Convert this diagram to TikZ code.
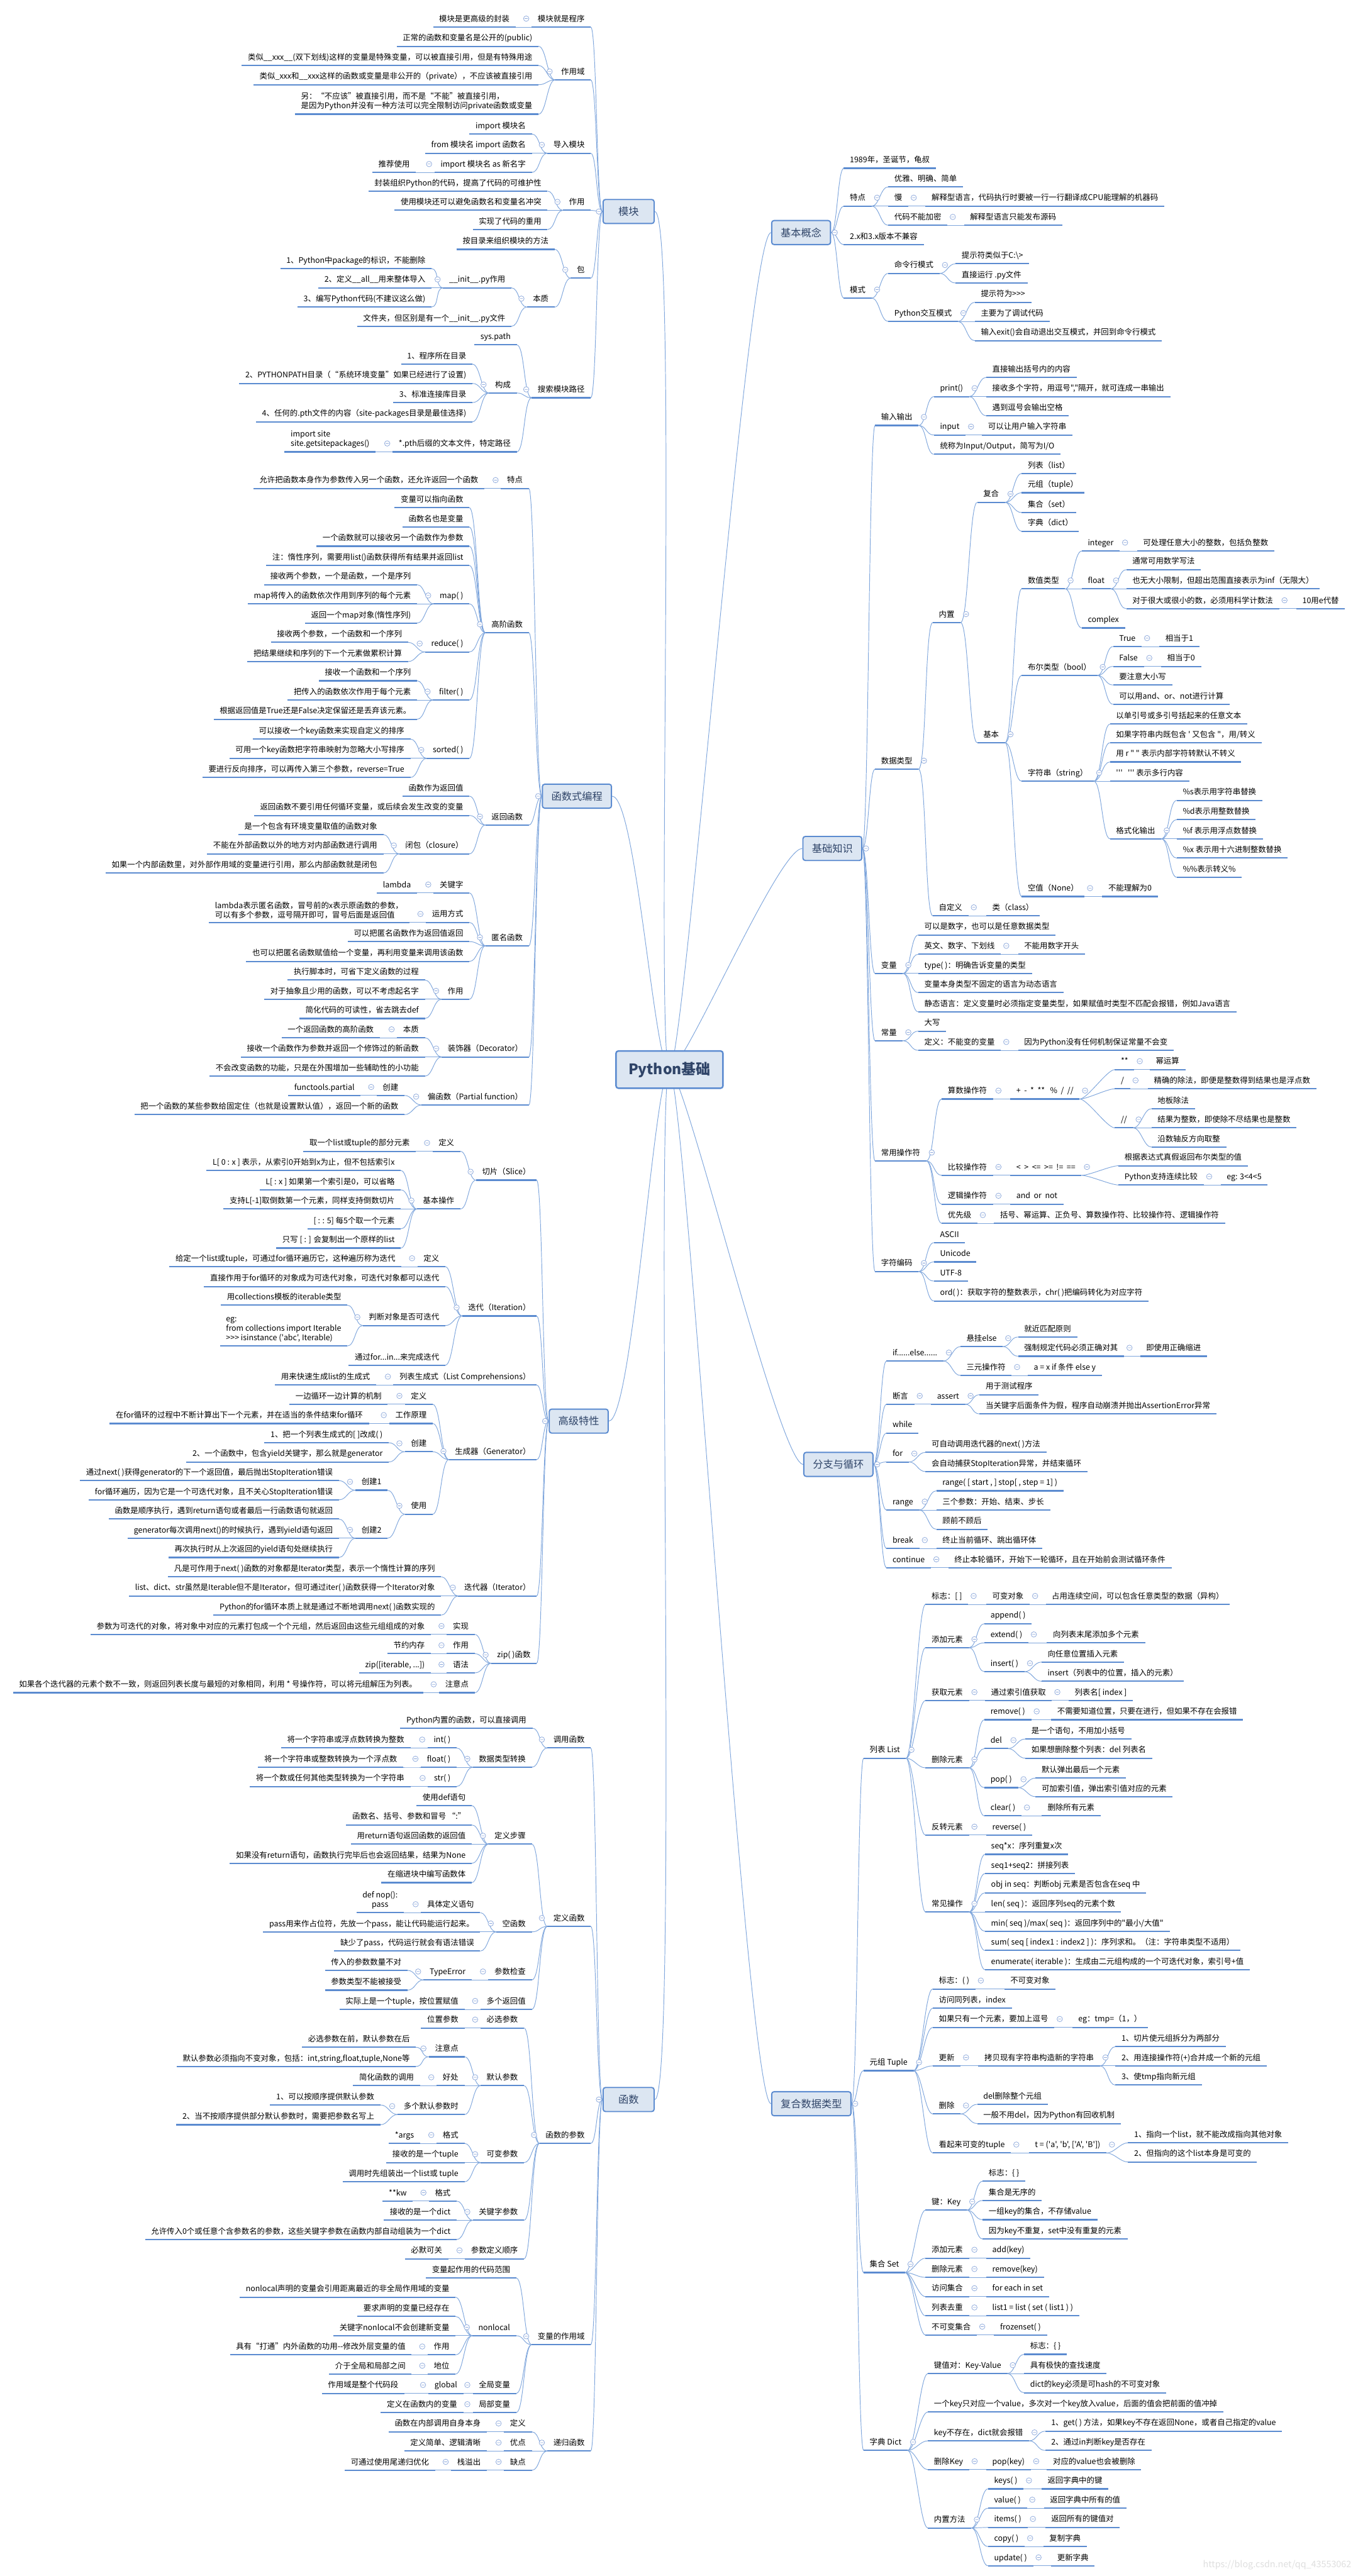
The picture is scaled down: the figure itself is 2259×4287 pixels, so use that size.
\documentclass[tikz,border=0pt]{standalone}
\usepackage{fontspec}
\usepackage{xcolor}
\usepackage{tikz}
\usetikzlibrary{backgrounds}
\newfontfamily\zhfont{Noto Sans CJK SC}
\definecolor{ulc}{HTML}{5B8BD0}
\definecolor{lnc}{HTML}{7FA6DC}
\definecolor{bxf}{HTML}{DCE6F2}
\definecolor{bxd}{HTML}{5B8BD0}
\definecolor{bxt}{HTML}{2F4468}
\definecolor{cic}{HTML}{8FAADC}
\tikzset{
  tx/.style={font=\zhfont\fontsize{13}{16}\selectfont, inner xsep=10pt, inner ysep=6pt, text height=10pt, text depth=3pt,
    append after command={(\tikzlastnode.south west) edge[draw=ulc, line width=2.2pt] (\tikzlastnode.south east)}},
  lt/.style={tx, anchor=south east},
  rt/.style={tx, anchor=south west},
  ml/.style={align=left, text height={}, text depth={}},
  topic/.style={draw=bxd, fill=bxf, line width=2pt, rounded corners=4pt, text=bxt, font=\zhfont\fontsize{17}{20}\selectfont, minimum width=85pt, minimum height=40pt, inner xsep=15pt},
  root/.style={topic, font=\zhfont\bfseries\fontsize{24}{28}\selectfont, minimum width=178pt, minimum height=62pt, line width=2.5pt},
  lnk/.style={draw=lnc, line width=1pt},
  cir/.style={draw=cic, fill=white, line width=0.8pt}
}
\newcommand\lkids[2]{\foreach \kid in {#2}{\draw[lnk] (#1.south west) .. controls +(-13,0) and +(13,0) .. (\kid.south east);}\draw[cir] ([shift={(-9,-14)}]#1.south west) circle (4.5pt) ++(-2.5,0) -- ++(5,0);}
\newcommand\rkids[2]{\foreach \kid in {#2}{\draw[lnk] (#1.south east) .. controls +(13,0) and +(-13,0) .. (\kid.south west);}\draw[cir] ([shift={(9,-14)}]#1.south east) circle (4.5pt) ++(-2.5,0) -- ++(5,0);}
\newcommand\lroot[2]{\foreach \kid in {#2}{\draw[lnk] (#1.west) .. controls +(-10,0) and +(10,0) .. (\kid.south east);}\draw[cir] ([xshift=-6pt]#1.west) circle (4.5pt) ++(-2.5,0) -- ++(5,0);}
\newcommand\rroot[2]{\foreach \kid in {#2}{\draw[lnk] (#1.east) .. controls +(10,0) and +(-10,0) .. (\kid.south west);}\draw[cir] ([xshift=6pt]#1.east) circle (4.5pt) ++(-2.5,0) -- ++(5,0);}
\begin{document}
\begin{tikzpicture}[x=1pt,y=-1pt]
    \useasboundingbox (0,0) rectangle (2259,4287);
    \node[root] (py) at (1114,1780) {Python基础};

    \node[topic] (mk) at (1046,352) {模块};
    \node[lt] (mk1) at (983,45) {模块就是程序};
    \node[lt] (mk1a) at (858,45) {模块是更高级的封装};
    \node[lt] (mk2) at (983,133) {作用域};
    \node[lt] (mk2a) at (896,77) {正常的函数和变量名是公开的(public)};
    \node[lt] (mk2b) at (896,109) {类似\_\_xxx\_\_(双下划线)这样的变量是特殊变量，可以被直接引用，但是有特殊用途};
    \node[lt] (mk2c) at (896,141) {类似\_xxx和\_\_xxx这样的函数或变量是非公开的（private），不应该被直接引用};
    \node[lt,ml] (mk2d) at (896,190) {另：“不应该”被直接引用，而不是“不能”被直接引用，\\是因为Python并没有一种方法可以完全限制访问private函数或变量};
    \node[lt] (mk3) at (983,255) {导入模块};
    \node[lt] (mk3a) at (885,223) {import 模块名};
    \node[lt] (mk3b) at (885,255) {from 模块名 import 函数名};
    \node[lt] (mk3c) at (885,287) {import 模块名 as 新名字};
    \node[lt] (mk3c1) at (692,287) {推荐使用};
    \node[lt] (mk4) at (983,350) {作用};
    \node[lt] (mk4a) at (911,318) {封装组织Python的代码，提高了代码的可维护性};
    \node[lt] (mk4b) at (911,350) {使用模块还可以避免函数名和变量名冲突};
    \node[lt] (mk4c) at (911,382) {实现了代码的重用};
    \node[lt] (mk5) at (983,463) {包};
    \node[lt] (mk5a) at (923,415) {按目录来组织模块的方法};
    \node[lt] (mk5b) at (923,511) {本质};
    \node[lt] (mk5b1) at (851,479) {\_\_init\_\_.py作用};
    \node[lt] (mk5b1a) at (718,447) {1、Python中package的标识，不能删除};
    \node[lt] (mk5b1b) at (718,479) {2、定义\_\_all\_\_用来整体导入};
    \node[lt] (mk5b1c) at (718,511) {3、编写Python代码(不建议这么做)};
    \node[lt] (mk5b2) at (851,543) {文件夹，但区别是有一个\_\_init\_\_.py文件};
    \node[lt] (mk6) at (983,662) {搜索模块路径};
    \node[lt] (mk6a) at (860,574) {sys.path};
    \node[lt] (mk6b) at (860,654) {构成};
    \node[lt] (mk6b1) at (786,606) {1、程序所在目录};
    \node[lt] (mk6b2) at (786,638) {2、PYTHONPATH目录（“系统环境变量”如果已经进行了设置)};
    \node[lt] (mk6b3) at (786,670) {3、标准连接库目录};
    \node[lt] (mk6b4) at (786,702) {4、任何的.pth文件的内容（site-packages目录是最佳选择)};
    \node[lt] (mk6c) at (860,752) {*.pth后缀的文本文件，特定路径};
    \node[lt,ml] (mk6c1) at (625,752) {import site\\site.getsitepackages()};
    \lroot{mk}{mk1,mk2,mk3,mk4,mk5,mk6}
    \lkids{mk1}{mk1a}
    \lkids{mk2}{mk2a,mk2b,mk2c,mk2d}
    \lkids{mk3}{mk3a,mk3b,mk3c}
    \lkids{mk3c}{mk3c1}
    \lkids{mk4}{mk4a,mk4b,mk4c}
    \lkids{mk5}{mk5a,mk5b}
    \lkids{mk5b}{mk5b1,mk5b2}
    \lkids{mk5b1}{mk5b1a,mk5b1b,mk5b1c}
    \lkids{mk6}{mk6a,mk6b,mk6c}
    \lkids{mk6b}{mk6b1,mk6b2,mk6b3,mk6b4}
    \lkids{mk6c}{mk6c1}

    \node[topic] (fp) at (960,1325) {函数式编程};
    \node[lt] (fp1) at (880,813) {特点};
    \node[lt] (fp1a) at (806,813) {允许把函数本身作为参数传入另一个函数，还允许返回一个函数};
    \node[lt] (fp2) at (880,1053) {高阶函数};
    \node[lt] (fp2a) at (781,845) {变量可以指向函数};
    \node[lt] (fp2b) at (781,877) {函数名也是变量};
    \node[lt] (fp2c) at (781,909) {一个函数就可以接收另一个函数作为参数};
    \node[lt] (fp2d) at (781,941) {注：惰性序列，需要用list()函数获得所有结果并返回list};
    \node[lt] (fp2e) at (781,1005) {map( )};
    \node[lt] (fp2e1) at (694,973) {接收两个参数，一个是函数，一个是序列};
    \node[lt] (fp2e2) at (694,1005) {map将传入的函数依次作用到序列的每个元素};
    \node[lt] (fp2e3) at (694,1037) {返回一个map对象(惰性序列)};
    \node[lt] (fp2f) at (781,1085) {reduce( )};
    \node[lt] (fp2f1) at (679,1069) {接收两个参数，一个函数和一个序列};
    \node[lt] (fp2f2) at (679,1101) {把结果继续和序列的下一个元素做累积计算};
    \node[lt] (fp2g) at (781,1165) {filter( )};
    \node[lt] (fp2g1) at (694,1133) {接收一个函数和一个序列};
    \node[lt] (fp2g2) at (694,1165) {把传入的函数依次作用于每个元素};
    \node[lt] (fp2g3) at (694,1197) {根据返回值是True还是False决定保留还是丢弃该元素。};
    \node[lt] (fp2h) at (781,1262) {sorted( )};
    \node[lt] (fp2h1) at (683,1230) {可以接收一个key函数来实现自定义的排序};
    \node[lt] (fp2h2) at (683,1262) {可用一个key函数把字符串映射为忽略大小写排序};
    \node[lt] (fp2h3) at (683,1294) {要进行反向排序，可以再传入第三个参数，reverse=True};
    \node[lt] (fp3) at (880,1373) {返回函数};
    \node[lt] (fp3a) at (781,1325) {函数作为返回值};
    \node[lt] (fp3b) at (781,1357) {返回函数不要引用任何循环变量，或后续会发生改变的变量};
    \node[lt] (fp3c) at (781,1421) {闭包（closure）};
    \node[lt] (fp3c1) at (638,1389) {是一个包含有环境变量取值的函数对象};
    \node[lt] (fp3c2) at (638,1421) {不能在外部函数以外的地方对内部函数进行调用};
    \node[lt] (fp3c3) at (638,1453) {如果一个内部函数里，对外部作用域的变量进行引用，那么内部函数就是闭包};
    \node[lt] (fp4) at (880,1574) {匿名函数};
    \node[lt] (fp4a) at (781,1486) {关键字};
    \node[lt] (fp4a1) at (694,1486) {lambda};
    \node[lt] (fp4b) at (781,1535) {运用方式};
    \node[lt,ml] (fp4b1) at (681,1535) {lambda表示匿名函数，冒号前的x表示原函数的参数，\\可以有多个参数，逗号隔开即可，冒号后面是返回值};
    \node[lt] (fp4c) at (781,1567) {可以把匿名函数作为返回值返回};
    \node[lt] (fp4d) at (781,1600) {也可以把匿名函数赋值给一个变量，再利用变量来调用该函数};
    \node[lt] (fp4e) at (781,1663) {作用};
    \node[lt] (fp4e1) at (707,1631) {执行脚本时，可省下定义函数的过程};
    \node[lt] (fp4e2) at (707,1663) {对于抽象且少用的函数，可以不考虑起名字};
    \node[lt] (fp4e3) at (707,1695) {简化代码的可读性，省去跳去def};
    \node[lt] (fp5) at (880,1759) {装饰器（Decorator）};
    \node[lt] (fp5a) at (707,1727) {本质};
    \node[lt] (fp5a1) at (632,1727) {一个返回函数的高阶函数};
    \node[lt] (fp5b) at (707,1759) {接收一个函数作为参数并返回一个修饰过的新函数};
    \node[lt] (fp5c) at (707,1791) {不会改变函数的功能，只是在外围增加一些辅助性的小功能};
    \node[lt] (fp6) at (880,1839) {偏函数（Partial function）};
    \node[lt] (fp6a) at (673,1823) {创建};
    \node[lt] (fp6a1) at (600,1823) {functools.partial};
    \node[lt] (fp6b) at (673,1855) {把一个函数的某些参数给固定住（也就是设置默认值），返回一个新的函数};
    \lroot{fp}{fp1,fp2,fp3,fp4,fp5,fp6}
    \lkids{fp1}{fp1a}
    \lkids{fp2}{fp2a,fp2b,fp2c,fp2d,fp2e,fp2f,fp2g,fp2h}
    \lkids{fp2e}{fp2e1,fp2e2,fp2e3}
    \lkids{fp2f}{fp2f1,fp2f2}
    \lkids{fp2g}{fp2g1,fp2g2,fp2g3}
    \lkids{fp2h}{fp2h1,fp2h2,fp2h3}
    \lkids{fp3}{fp3a,fp3b,fp3c}
    \lkids{fp3c}{fp3c1,fp3c2,fp3c3}
    \lkids{fp4}{fp4a,fp4b,fp4c,fp4d,fp4e}
    \lkids{fp4a}{fp4a1}
    \lkids{fp4b}{fp4b1}
    \lkids{fp4e}{fp4e1,fp4e2,fp4e3}
    \lkids{fp5}{fp5a,fp5b,fp5c}
    \lkids{fp5a}{fp5a1}
    \lkids{fp6}{fp6a,fp6b}
    \lkids{fp6a}{fp6a1}

    \node[topic] (ad) at (963,2365) {高级特性};
    \node[lt] (ad1) at (893,1964) {切片（Slice）};
    \node[lt] (ad1a) at (766,1916) {定义};
    \node[lt] (ad1a1) at (692,1916) {取一个list或tuple的部分元素};
    \node[lt] (ad1b) at (766,2012) {基本操作};
    \node[lt] (ad1b1) at (667,1948) {L[ 0 : x ] 表示，从索引0开始到x为止，但不包括索引x};
    \node[lt] (ad1b2) at (667,1980) {L[ : x ] 如果第一个索引是0，可以省略};
    \node[lt] (ad1b3) at (667,2012) {支持L[-1]取倒数第一个元素，同样支持倒数切片};
    \node[lt] (ad1b4) at (667,2045) {[ : : 5] 每5个取一个元素};
    \node[lt] (ad1b5) at (667,2077) {只写 [ : ] 会复制出一个原样的list};
    \node[lt] (ad2) at (893,2190) {迭代（Iteration）};
    \node[lt] (ad2a) at (741,2108) {定义};
    \node[lt] (ad2a1) at (668,2108) {给定一个list或tuple，可通过for循环遍历它，这种遍历称为迭代};
    \node[lt] (ad2b) at (741,2141) {直接作用于for循环的对象成为可迭代对象，可迭代对象都可以迭代};
    \node[lt] (ad2c) at (741,2206) {判断对象是否可迭代};
    \node[lt] (ad2c1) at (578,2172) {用collections模板的iterable类型};
    \node[lt,ml] (ad2c2) at (578,2240) {eg:\\from collections import Iterable\\>>> isinstance ('abc', Iterable)};
    \node[lt] (ad2d) at (741,2272) {通过for...in...来完成迭代};
    \node[lt] (ad3) at (893,2305) {列表生成式（List Comprehensions）};
    \node[lt] (ad3a) at (626,2305) {用来快速生成list的生成式};
    \node[lt] (ad4) at (893,2429) {生成器（Generator）};
    \node[lt] (ad4a) at (720,2337) {定义};
    \node[lt] (ad4a1) at (645,2337) {一边循环一边计算的机制};
    \node[lt] (ad4b) at (720,2369) {工作原理};
    \node[lt] (ad4b1) at (614,2369) {在for循环的过程中不断计算出下一个元素，并在适当的条件结束for循环};
    \node[lt] (ad4c) at (720,2416) {创建};
    \node[lt] (ad4c1) at (647,2401) {1、把一个列表生成式的[ ]改成( )};
    \node[lt] (ad4c2) at (647,2433) {2、一个函数中，包含yield关键字，那么就是generator};
    \node[lt] (ad4d) at (720,2520) {使用};
    \node[lt] (ad4d1) at (645,2480) {创建1};
    \node[lt] (ad4d1a) at (564,2464) {通过next( )获得generator的下一个返回值，最后抛出StopIteration错误};
    \node[lt] (ad4d1b) at (564,2496) {for循环遍历，因为它是一个可迭代对象，且不关心StopIteration错误};
    \node[lt] (ad4d2) at (645,2560) {创建2};
    \node[lt] (ad4d2a) at (564,2528) {函数是顺序执行，遇到return语句或者最后一行函数语句就返回};
    \node[lt] (ad4d2b) at (564,2560) {generator每次调用next()的时候执行，遇到yield语句返回};
    \node[lt] (ad4d2c) at (564,2592) {再次执行时从上次返回的yield语句处继续执行};
    \node[lt] (ad5) at (893,2656) {迭代器（Iterator）};
    \node[lt] (ad5a) at (734,2624) {凡是可作用于next( )函数的对象都是Iterator类型，表示一个惰性计算的序列};
    \node[lt] (ad5b) at (734,2656) {list、dict、str虽然是Iterable但不是Iterator，但可通过iter( )函数获得一个Iterator对象};
    \node[lt] (ad5c) at (734,2688) {Python的for循环本质上就是通过不断地调用next( )函数实现的};
    \node[lt] (ad6) at (893,2768) {zip( )函数};
    \node[lt] (ad6a) at (790,2720) {实现};
    \node[lt] (ad6a1) at (717,2720) {参数为可迭代的对象，将对象中对应的元素打包成一个个元组，然后返回由这些元组组成的对象};
    \node[lt] (ad6b) at (790,2752) {作用};
    \node[lt] (ad6b1) at (717,2752) {节约内存};
    \node[lt] (ad6c) at (790,2784) {语法};
    \node[lt] (ad6c1) at (717,2784) {zip([iterable, ...])};
    \node[lt] (ad6d) at (790,2817) {注意点};
    \node[lt] (ad6d1) at (704,2817) {如果各个迭代器的元素个数不一致，则返回列表长度与最短的对象相同，利用 * 号操作符，可以将元组解压为列表。};
    \lroot{ad}{ad1,ad2,ad3,ad4,ad5,ad6}
    \lkids{ad1}{ad1a,ad1b}
    \lkids{ad1a}{ad1a1}
    \lkids{ad1b}{ad1b1,ad1b2,ad1b3,ad1b4,ad1b5}
    \lkids{ad2}{ad2a,ad2b,ad2c,ad2d}
    \lkids{ad2a}{ad2a1}
    \lkids{ad2c}{ad2c1,ad2c2}
    \lkids{ad3}{ad3a}
    \lkids{ad4}{ad4a,ad4b,ad4c,ad4d}
    \lkids{ad4a}{ad4a1}
    \lkids{ad4b}{ad4b1}
    \lkids{ad4c}{ad4c1,ad4c2}
    \lkids{ad4d}{ad4d1,ad4d2}
    \lkids{ad4d1}{ad4d1a,ad4d1b}
    \lkids{ad4d2}{ad4d2a,ad4d2b,ad4d2c}
    \lkids{ad5}{ad5a,ad5b,ad5c}
    \lkids{ad6}{ad6a,ad6b,ad6c,ad6d}
    \lkids{ad6a}{ad6a1}
    \lkids{ad6b}{ad6b1}
    \lkids{ad6c}{ad6c1}
    \lkids{ad6d}{ad6d1}

    \node[topic] (fn) at (1046,3494) {函数};
    \node[lt] (fn1) at (983,2909) {调用函数};
    \node[lt] (fn1a) at (886,2876) {Python内置的函数，可以直接调用};
    \node[lt] (fn1b) at (885,2941) {数据类型转换};
    \node[lt] (fn1b1) at (760,2909) {int( )};
    \node[lt] (fn1b1a) at (683,2909) {将一个字符串或浮点数转换为整数};
    \node[lt] (fn1b2) at (760,2941) {float( )};
    \node[lt] (fn1b2a) at (671,2941) {将一个字符串或整数转换为一个浮点数};
    \node[lt] (fn1b3) at (760,2973) {str( )};
    \node[lt] (fn1b3a) at (683,2973) {将一个数或任何其他类型转换为一个字符串};
    \node[lt] (fn2) at (983,3206) {定义函数};
    \node[lt] (fn2a) at (885,3069) {定义步骤};
    \node[lt] (fn2a1) at (785,3005) {使用def语句};
    \node[lt] (fn2a2) at (785,3037) {函数名、括号、参数和冒号 “:”};
    \node[lt] (fn2a3) at (785,3069) {用return语句返回函数的返回值};
    \node[lt] (fn2a4) at (785,3101) {如果没有return语句，函数执行完毕后也会返回结果，结果为None};
    \node[lt] (fn2a5) at (785,3133) {在缩进块中编写函数体};
    \node[lt] (fn2b) at (885,3215) {空函数};
    \node[lt] (fn2b1) at (799,3183) {具体定义语句};
    \node[lt,ml,align=center] (fn2b1a) at (672,3183) {def nop():\\pass};
    \node[lt] (fn2b2) at (799,3215) {pass用来作占位符，先放一个pass，能让代码能运行起来。};
    \node[lt] (fn2b3) at (799,3247) {缺少了pass，代码运行就会有语法错误};
    \node[lt] (fn2c) at (885,3295) {参数检查};
    \node[lt] (fn2c1) at (785,3295) {TypeError};
    \node[lt] (fn2c1a) at (678,3279) {传入的参数数量不对};
    \node[lt] (fn2c1b) at (678,3312) {参数类型不能被接受};
    \node[lt] (fn2d) at (885,3344) {多个返回值};
    \node[lt] (fn2d1) at (773,3344) {实际上是一个tuple，按位置赋值};
    \node[lt] (fn3) at (983,3567) {函数的参数};
    \node[lt] (fn3a) at (872,3375) {必选参数};
    \node[lt] (fn3a1) at (773,3375) {位置参数};
    \node[lt] (fn3b) at (872,3471) {默认参数};
    \node[lt] (fn3b1) at (773,3423) {注意点};
    \node[lt] (fn3b1a) at (692,3407) {必选参数在前，默认参数在后};
    \node[lt] (fn3b1b) at (692,3439) {默认参数必须指向不变对象，包括：int,string,float,tuple,None等};
    \node[lt] (fn3b2) at (773,3471) {好处};
    \node[lt] (fn3b2a) at (699,3471) {简化函数的调用};
    \node[lt] (fn3b3) at (773,3519) {多个默认参数时};
    \node[lt] (fn3b3a) at (633,3503) {1、可以按顺序提供默认参数};
    \node[lt] (fn3b3b) at (633,3536) {2、当不按顺序提供部分默认参数时，需要把参数名写上};
    \node[lt] (fn3c) at (872,3599) {可变参数};
    \node[lt] (fn3c1) at (773,3567) {格式};
    \node[lt] (fn3c1a) at (699,3567) {*args};
    \node[lt] (fn3c2) at (773,3599) {接收的是一个tuple};
    \node[lt] (fn3c3) at (773,3631) {调用时先组装出一个list或 tuple};
    \node[lt] (fn3d) at (872,3695) {关键字参数};
    \node[lt] (fn3d1) at (760,3663) {格式};
    \node[lt] (fn3d1a) at (687,3663) {**kw};
    \node[lt] (fn3d2) at (760,3695) {接收的是一个dict};
    \node[lt] (fn3d3) at (760,3727) {允许传入0个或任意个含参数名的参数，这些关键字参数在函数内部自动组装为一个dict};
    \node[lt] (fn3e) at (872,3759) {参数定义顺序};
    \node[lt] (fn3e1) at (746,3759) {必默可关};
    \node[lt] (fn4) at (983,3902) {变量的作用域};
    \node[lt] (fn4a) at (859,3791) {变量起作用的代码范围};
    \node[lt] (fn4b) at (859,3887) {nonlocal};
    \node[lt] (fn4b1) at (758,3823) {nonlocal声明的变量会引用距离最近的非全局作用域的变量};
    \node[lt] (fn4b2) at (758,3855) {要求声明的变量已经存在};
    \node[lt] (fn4b3) at (758,3887) {关键字nonlocal不会创建新变量};
    \node[lt] (fn4b4) at (758,3919) {作用};
    \node[lt] (fn4b4a) at (685,3919) {具有“打通”内外函数的功用--修改外层变量的值};
    \node[lt] (fn4b5) at (758,3951) {地位};
    \node[lt] (fn4b5a) at (685,3951) {介于全局和局部之间};
    \node[lt] (fn4c) at (859,3983) {全局变量};
    \node[lt] (fn4c1) at (771,3983) {global};
    \node[lt] (fn4c1a) at (673,3983) {作用域是整个代码段};
    \node[lt] (fn4d) at (859,4015) {局部变量};
    \node[lt] (fn4d1) at (771,4015) {定义在函数内的变量};
    \node[lt] (fn5) at (983,4079) {递归函数};
    \node[lt] (fn5a) at (885,4047) {定义};
    \node[lt] (fn5a1) at (810,4047) {函数在内部调用自身本身};
    \node[lt] (fn5b) at (885,4079) {优点};
    \node[lt] (fn5b1) at (810,4079) {定义简单、逻辑清晰};
    \node[lt] (fn5c) at (885,4111) {缺点};
    \node[lt] (fn5c1) at (810,4111) {栈溢出};
    \node[lt] (fn5c1a) at (724,4111) {可通过使用尾递归优化};
    \lroot{fn}{fn1,fn2,fn3,fn4,fn5}
    \lkids{fn1}{fn1a,fn1b}
    \lkids{fn1b}{fn1b1,fn1b2,fn1b3}
    \lkids{fn1b1}{fn1b1a}
    \lkids{fn1b2}{fn1b2a}
    \lkids{fn1b3}{fn1b3a}
    \lkids{fn2}{fn2a,fn2b,fn2c,fn2d}
    \lkids{fn2a}{fn2a1,fn2a2,fn2a3,fn2a4,fn2a5}
    \lkids{fn2b}{fn2b1,fn2b2,fn2b3}
    \lkids{fn2b1}{fn2b1a}
    \lkids{fn2c}{fn2c1}
    \lkids{fn2c1}{fn2c1a,fn2c1b}
    \lkids{fn2d}{fn2d1}
    \lkids{fn3}{fn3a,fn3b,fn3c,fn3d,fn3e}
    \lkids{fn3a}{fn3a1}
    \lkids{fn3b}{fn3b1,fn3b2,fn3b3}
    \lkids{fn3b1}{fn3b1a,fn3b1b}
    \lkids{fn3b2}{fn3b2a}
    \lkids{fn3b3}{fn3b3a,fn3b3b}
    \lkids{fn3c}{fn3c1,fn3c2,fn3c3}
    \lkids{fn3c1}{fn3c1a}
    \lkids{fn3d}{fn3d1,fn3d2,fn3d3}
    \lkids{fn3d1}{fn3d1a}
    \lkids{fn3e}{fn3e1}
    \lkids{fn4}{fn4a,fn4b,fn4c,fn4d}
    \lkids{fn4b}{fn4b1,fn4b2,fn4b3,fn4b4,fn4b5}
    \lkids{fn4b4}{fn4b4a}
    \lkids{fn4b5}{fn4b5a}
    \lkids{fn4c}{fn4c1}
    \lkids{fn4c1}{fn4c1a}
    \lkids{fn4d}{fn4d1}
    \lkids{fn5}{fn5a,fn5b,fn5c}
    \lkids{fn5a}{fn5a1}
    \lkids{fn5b}{fn5b1}
    \lkids{fn5c}{fn5c1}
    \lkids{fn5c1}{fn5c1a}

    \node[topic] (bc) at (1333,387) {基本概念};
    \node[rt] (bc1) at (1404,280) {1989年，圣诞节，龟叔};
    \node[rt] (bc2) at (1404,343) {特点};
    \node[rt] (bc2a) at (1478,311) {优雅、明确、简单};
    \node[rt] (bc2b) at (1478,343) {慢};
    \node[rt] (bc2b1) at (1540,343) {解释型语言，代码执行时要被一行一行翻译成CPU能理解的机器码};
    \node[rt] (bc2c) at (1478,375) {代码不能加密};
    \node[rt] (bc2c1) at (1604,375) {解释型语言只能发布源码};
    \node[rt] (bc3) at (1404,407) {2.x和3.x版本不兼容};
    \node[rt] (bc4) at (1404,496) {模式};
    \node[rt] (bc4a) at (1478,455) {命令行模式};
    \node[rt] (bc4a1) at (1590,439) {提示符类似于C:\textbackslash>};
    \node[rt] (bc4a2) at (1590,471) {直接运行 .py文件};
    \node[rt] (bc4b) at (1478,535) {Python交互模式};
    \node[rt] (bc4b1) at (1622,503) {提示符为>>>};
    \node[rt] (bc4b2) at (1622,535) {主要为了调试代码};
    \node[rt] (bc4b3) at (1622,567) {输入exit()会自动退出交互模式，并回到命令行模式};
    \rroot{bc}{bc1,bc2,bc3,bc4}
    \rkids{bc2}{bc2a,bc2b,bc2c}
    \rkids{bc2b}{bc2b1}
    \rkids{bc2c}{bc2c1}
    \rkids{bc4}{bc4a,bc4b}
    \rkids{bc4a}{bc4a1,bc4a2}
    \rkids{bc4b}{bc4b1,bc4b2,bc4b3}

    \node[topic] (bk) at (1385,1412) {基础知识};
    \node[rt] (bk1) at (1456,708) {输入输出};
    \node[rt] (bk1a) at (1554,660) {print()};
    \node[rt] (bk1a1) at (1641,628) {直接输出括号内的内容};
    \node[rt] (bk1a2) at (1641,660) {接收多个字符，用逗号","隔开，就可连成一串输出};
    \node[rt] (bk1a3) at (1641,692) {遇到逗号会输出空格};
    \node[rt] (bk1b) at (1554,724) {input};
    \node[rt] (bk1b1) at (1634,724) {可以让用户输入字符串};
    \node[rt] (bk1c) at (1554,756) {统称为Input/Output，简写为I/O};
    \node[rt] (bk2) at (1456,1280) {数据类型};
    \node[rt] (bk2a) at (1552,1036) {内置};
    \node[rt] (bk2a1) at (1626,836) {复合};
    \node[rt] (bk2a1a) at (1700,788) {列表（list）};
    \node[rt] (bk2a1b) at (1700,820) {元组（tuple）};
    \node[rt] (bk2a1c) at (1700,853) {集合（set）};
    \node[rt] (bk2a1d) at (1700,884) {字典（dict）};
    \node[rt] (bk2a2) at (1626,1236) {基本};
    \node[rt] (bk2a2a) at (1700,980) {数值类型};
    \node[rt] (nm1) at (1800,917) {integer};
    \node[rt] (nm1a) at (1892,917) {可处理任意大小的整数，包括负整数};
    \node[rt] (nm2) at (1800,980) {float};
    \node[rt] (nm2a) at (1874,948) {通常可用数学写法};
    \node[rt] (nm2b) at (1874,980) {也无大小限制，但超出范围直接表示为inf（无限大）};
    \node[rt] (nm2c) at (1874,1013) {对于很大或很小的数，必须用科学计数法};
    \node[rt] (nm2c1) at (2157,1013) {10用e代替};
    \node[rt] (nm3) at (1800,1045) {complex};
    \node[rt] (bk2a2b) at (1700,1124) {布尔类型（bool）};
    \node[rt] (bl1) at (1852,1076) {True};
    \node[rt] (bl1a) at (1929,1076) {相当于1};
    \node[rt] (bl2) at (1852,1109) {False};
    \node[rt] (bl2a) at (1932,1109) {相当于0};
    \node[rt] (bl3) at (1852,1140) {要注意大小写};
    \node[rt] (bl4) at (1852,1172) {可以用and、or、not进行计算};
    \node[rt] (bk2a2c) at (1700,1300) {字符串（string）};
    \node[rt] (st1) at (1847,1205) {以单引号或多引号括起来的任意文本};
    \node[rt] (st2) at (1847,1236) {如果字符串内既包含 ' 又包含 "，用/转义};
    \node[rt] (st3) at (1847,1268) {用 r " " 表示内部字符转默认不转义};
    \node[rt] (st4) at (1847,1300) {'''\ \ \ ''' 表示多行内容};
    \node[rt] (st5) at (1847,1396) {格式化输出};
    \node[rt] (st5a) at (1958,1332) {\%s表示用字符串替换};
    \node[rt] (st5b) at (1958,1364) {\%d表示用整数替换};
    \node[rt] (st5c) at (1958,1396) {\%f 表示用浮点数替换};
    \node[rt] (st5d) at (1958,1428) {\%x 表示用十六进制整数替换};
    \node[rt] (st5e) at (1958,1460) {\%\%表示转义\%};
    \node[rt] (bk2a2d) at (1700,1492) {空值（None）};
    \node[rt] (bk2a2d1) at (1834,1492) {不能理解为0};
    \node[rt] (bk2b) at (1552,1524) {自定义};
    \node[rt] (bk2b1) at (1641,1524) {类（class）};
    \node[rt] (bk3) at (1456,1620) {变量};
    \node[rt] (bk3a) at (1528,1556) {可以是数字，也可以是任意数据类型};
    \node[rt] (bk3b) at (1528,1588) {英文、数字、下划线};
    \node[rt] (bk3b1) at (1694,1588) {不能用数字开头};
    \node[rt] (bk3c) at (1528,1620) {type( )：明确告诉变量的类型};
    \node[rt] (bk3d) at (1528,1652) {变量本身类型不固定的语言为动态语言};
    \node[rt] (bk3e) at (1528,1684) {静态语言：定义变量时必须指定变量类型，如果赋值时类型不匹配会报错，例如Java语言};
    \node[rt] (bk4) at (1456,1732) {常量};
    \node[rt] (bk4a) at (1528,1716) {大写};
    \node[rt] (bk4b) at (1528,1748) {定义：不能变的变量};
    \node[rt] (bk4b1) at (1694,1748) {因为Python没有任何机制保证常量不会变};
    \node[rt] (bk5) at (1456,1932) {常用操作符};
    \node[rt] (bk5a) at (1567,1829) {算数操作符};
    \node[rt] (bk5a1) at (1681,1829) {+\ \ -\ \ *\ \ **\ \ \ \%\ \ /\ \ //};
    \node[rt] (op1) at (1855,1780) {**};
    \node[rt] (op1a) at (1913,1780) {幂运算};
    \node[rt] (op2) at (1855,1812) {/};
    \node[rt] (op2a) at (1910,1812) {精确的除法，即便是整数得到结果也是浮点数};
    \node[rt] (op3) at (1855,1877) {//};
    \node[rt] (op3a) at (1916,1845) {地板除法};
    \node[rt] (op3b) at (1916,1877) {结果为整数，即使除不尽结果也是整数};
    \node[rt] (op3c) at (1916,1909) {沿数轴反方向取整};
    \node[rt] (bk5b) at (1567,1956) {比较操作符};
    \node[rt] (bk5b1) at (1681,1956) {<\ \ >\ \ <=\ \ >=\ \ !=\ \ ==};
    \node[rt] (cp1) at (1861,1940) {根据表达式真假返回布尔类型的值};
    \node[rt] (cp2) at (1861,1972) {Python支持连续比较};
    \node[rt] (cp2a) at (2031,1972) {eg: 3<4<5};
    \node[rt] (bk5c) at (1567,2004) {逻辑操作符};
    \node[rt] (bk5c1) at (1681,2004) {and\ \ or\ \ not};
    \node[rt] (bk5d) at (1567,2036) {优先级};
    \node[rt] (bk5d1) at (1654,2036) {括号、幂运算、正负号、算数操作符、比较操作符、逻辑操作符};
    \node[rt] (bk6) at (1456,2116) {字符编码};
    \node[rt] (bk6a) at (1554,2068) {ASCII};
    \node[rt] (bk6b) at (1554,2100) {Unicode};
    \node[rt] (bk6c) at (1554,2132) {UTF-8};
    \node[rt] (bk6d) at (1554,2165) {ord( )：获取字符的整数表示，chr( )把编码转化为对应字符};
    \rroot{bk}{bk1,bk2,bk3,bk4,bk5,bk6}
    \rkids{bk1}{bk1a,bk1b,bk1c}
    \rkids{bk1a}{bk1a1,bk1a2,bk1a3}
    \rkids{bk1b}{bk1b1}
    \rkids{bk2}{bk2a,bk2b}
    \rkids{bk2a}{bk2a1,bk2a2}
    \rkids{bk2a1}{bk2a1a,bk2a1b,bk2a1c,bk2a1d}
    \rkids{bk2a2}{bk2a2a,bk2a2b,bk2a2c,bk2a2d}
    \rkids{bk2a2a}{nm1,nm2,nm3}
    \rkids{nm1}{nm1a}
    \rkids{nm2}{nm2a,nm2b,nm2c}
    \rkids{nm2c}{nm2c1}
    \rkids{bk2a2b}{bl1,bl2,bl3,bl4}
    \rkids{bl1}{bl1a}
    \rkids{bl2}{bl2a}
    \rkids{bk2a2c}{st1,st2,st3,st4,st5}
    \rkids{st5}{st5a,st5b,st5c,st5d,st5e}
    \rkids{bk2a2d}{bk2a2d1}
    \rkids{bk2b}{bk2b1}
    \rkids{bk3}{bk3a,bk3b,bk3c,bk3d,bk3e}
    \rkids{bk3b}{bk3b1}
    \rkids{bk4}{bk4a,bk4b}
    \rkids{bk4b}{bk4b1}
    \rkids{bk5}{bk5a,bk5b,bk5c,bk5d}
    \rkids{bk5a}{bk5a1}
    \rkids{bk5a1}{op1,op2,op3}
    \rkids{op1}{op1a}
    \rkids{op2}{op2a}
    \rkids{op3}{op3a,op3b,op3c}
    \rkids{bk5b}{bk5b1}
    \rkids{bk5b1}{cp1,cp2}
    \rkids{cp2}{cp2a}
    \rkids{bk5c}{bk5c1}
    \rkids{bk5d}{bk5d1}
    \rkids{bk6}{bk6a,bk6b,bk6c,bk6d}

    \node[topic] (br) at (1395,2437) {分支与循环};
    \node[rt] (br1) at (1475,2265) {if......else......};
    \node[rt] (br1a) at (1598,2241) {悬挂else};
    \node[rt] (br1a1) at (1694,2225) {就近匹配原则};
    \node[rt] (br1a2) at (1694,2257) {强制规定代码必须正确对其};
    \node[rt] (br1a2a) at (1897,2257) {即使用正确缩进};
    \node[rt] (br1b) at (1598,2289) {三元操作符};
    \node[rt] (br1b1) at (1710,2289) {a = x if 条件 else y};
    \node[rt] (br2) at (1475,2337) {断言};
    \node[rt] (br2a) at (1549,2337) {assert};
    \node[rt] (br2a1) at (1630,2321) {用于测试程序};
    \node[rt] (br2a2) at (1630,2353) {当关键字后面条件为假，程序自动崩溃并抛出AssertionError异常};
    \node[rt] (br3) at (1475,2385) {while};
    \node[rt] (br4) at (1475,2433) {for};
    \node[rt] (br4a) at (1540,2417) {可自动调用迭代器的next( )方法};
    \node[rt] (br4b) at (1540,2449) {会自动捕获StopIteration异常，并结束循环};
    \node[rt] (br5) at (1475,2513) {range};
    \node[rt] (br5a) at (1558,2481) {range( [ start , ] stop[ , step = 1] )};
    \node[rt] (br5b) at (1558,2513) {三个参数：开始、结束、步长};
    \node[rt] (br5c) at (1558,2545) {顾前不顾后};
    \node[rt] (br6) at (1475,2577) {break};
    \node[rt] (br6a) at (1558,2577) {终止当前循环、跳出循环体};
    \node[rt] (br7) at (1475,2609) {continue};
    \node[rt] (br7a) at (1578,2609) {终止本轮循环，开始下一轮循环，且在开始前会测试循环条件};
    \rroot{br}{br1,br2,br3,br4,br5,br6,br7}
    \rkids{br1}{br1a,br1b}
    \rkids{br1a}{br1a1,br1a2}
    \rkids{br1a2}{br1a2a}
    \rkids{br1b}{br1b1}
    \rkids{br2}{br2a}
    \rkids{br2a}{br2a1,br2a2}
    \rkids{br4}{br4a,br4b}
    \rkids{br5}{br5a,br5b,br5c}
    \rkids{br6}{br6a}
    \rkids{br7}{br7a}

    \node[topic] (cd) at (1350,3501) {复合数据类型};
    \node[rt] (cd1) at (1437,2926) {列表 List};
    \node[rt] (cd1a) at (1540,2670) {标志：[ ]};
    \node[rt] (cd1a1) at (1641,2670) {可变对象};
    \node[rt] (cd1a1a) at (1740,2670) {占用连续空间，可以包含任意类型的数据（异构）};
    \node[rt] (cd1b) at (1540,2742) {添加元素};
    \node[rt] (cd1b1) at (1638,2702) {append( )};
    \node[rt] (cd1b2) at (1638,2734) {extend( )};
    \node[rt] (cd1b2a) at (1742,2734) {向列表末尾添加多个元素};
    \node[rt] (cd1b3) at (1638,2782) {insert( )};
    \node[rt] (cd1b3a) at (1733,2766) {向任意位置插入元素};
    \node[rt] (cd1b3b) at (1733,2798) {insert（列表中的位置，插入的元素）};
    \node[rt] (cd1c) at (1540,2830) {获取元素};
    \node[rt] (cd1c1) at (1639,2830) {通过索引值获取};
    \node[rt] (cd1c1a) at (1778,2830) {列表名[ index ]};
    \node[rt] (cd1d) at (1540,2942) {删除元素};
    \node[rt] (cd1d1) at (1638,2862) {remove( )};
    \node[rt] (cd1d1a) at (1749,2862) {不需要知道位置，只要在进行，但如果不存在会报错};
    \node[rt] (cd1d2) at (1638,2910) {del};
    \node[rt] (cd1d2a) at (1706,2894) {是一个语句，不用加小括号};
    \node[rt] (cd1d2b) at (1706,2926) {如果想删除整个列表：del 列表名};
    \node[rt] (cd1d3) at (1638,2975) {pop( )};
    \node[rt] (cd1d3a) at (1723,2959) {默认弹出最后一个元素};
    \node[rt] (cd1d3b) at (1723,2990) {可加索引值，弹出索引值对应的元素};
    \node[rt] (cd1d4) at (1638,3022) {clear( )};
    \node[rt] (cd1d4a) at (1733,3022) {删除所有元素};
    \node[rt] (cd1e) at (1540,3054) {反转元素};
    \node[rt] (cd1e1) at (1641,3054) {reverse( )};
    \node[rt] (cd1f) at (1540,3182) {常见操作};
    \node[rt] (cd1f1) at (1639,3086) {seq*x：序列重复x次};
    \node[rt] (cd1f2) at (1639,3118) {seq1+seq2：拼接列表};
    \node[rt] (cd1f3) at (1639,3150) {obj in seq：判断obj 元素是否包含在seq 中};
    \node[rt] (cd1f4) at (1639,3182) {len( seq )：返回序列seq的元素个数};
    \node[rt] (cd1f5) at (1639,3214) {min( seq )/max( seq )：返回序列中的"最小/大值"};
    \node[rt] (cd1f6) at (1639,3246) {sum( seq [ index1 : index2 ] )：序列求和。（注：字符串类型不适用）};
    \node[rt] (cd1f7) at (1639,3278) {enumerate( iterable )：生成由二元组构成的一个可迭代对象，索引号+值};
    \node[rt] (cd2) at (1437,3446) {元组 Tuple};
    \node[rt] (cd2a) at (1552,3310) {标志：( )};
    \node[rt] (cd2a1) at (1671,3310) {不可变对象};
    \node[rt] (cd2b) at (1552,3342) {访问同列表，index};
    \node[rt] (cd2c) at (1552,3374) {如果只有一个元素，要加上逗号};
    \node[rt] (cd2c1) at (1784,3374) {eg：tmp=（1，）};
    \node[rt] (cd2d) at (1552,3438) {更新};
    \node[rt] (cd2d1) at (1628,3438) {拷贝现有字符串构造新的字符串};
    \node[rt] (cd2d1a) at (1856,3406) {1、切片使元组拆分为两部分};
    \node[rt] (cd2d1b) at (1856,3438) {2、用连接操作符(+)合并成一个新的元组};
    \node[rt] (cd2d1c) at (1856,3470) {3、使tmp指向新元组};
    \node[rt] (cd2e) at (1552,3518) {删除};
    \node[rt] (cd2e1) at (1626,3502) {del删除整个元组};
    \node[rt] (cd2e2) at (1626,3534) {一般不用del，因为Python有回收机制};
    \node[rt] (cd2f) at (1552,3583) {看起来可变的tuple};
    \node[rt] (cd2f1) at (1712,3583) {t = ('a', 'b', ['A', 'B'])};
    \node[rt] (cd2f1a) at (1877,3566) {1、指向一个list，就不能改成指向其他对象};
    \node[rt] (cd2f1b) at (1877,3598) {2、但指向的这个list本身是可变的};
    \node[rt] (cd3) at (1437,3782) {集合 Set};
    \node[rt] (cd3a) at (1540,3678) {键：Key};
    \node[rt] (cd3a1) at (1635,3630) {标志：\{ \}};
    \node[rt] (cd3a2) at (1635,3662) {集合是无序的};
    \node[rt] (cd3a3) at (1635,3694) {一组key的集合，不存储value};
    \node[rt] (cd3a4) at (1635,3726) {因为key不重复，set中没有重复的元素};
    \node[rt] (cd3b) at (1540,3758) {添加元素};
    \node[rt] (cd3b1) at (1641,3758) {add(key)};
    \node[rt] (cd3c) at (1540,3790) {删除元素};
    \node[rt] (cd3c1) at (1641,3790) {remove(key)};
    \node[rt] (cd3d) at (1540,3822) {访问集合};
    \node[rt] (cd3d1) at (1641,3822) {for each in set};
    \node[rt] (cd3e) at (1540,3854) {列表去重};
    \node[rt] (cd3e1) at (1641,3854) {list1 = list ( set ( list1 ) )};
    \node[rt] (cd3f) at (1540,3886) {不可变集合};
    \node[rt] (cd3f1) at (1654,3886) {frozenset( )};
    \node[rt] (cd4) at (1437,4078) {字典 Dict};
    \node[rt] (cd4a) at (1544,3950) {键值对：Key-Value};
    \node[rt] (cd4a1) at (1704,3918) {标志：\{ \}};
    \node[rt] (cd4a2) at (1704,3950) {具有极快的查找速度};
    \node[rt] (cd4a3) at (1704,3982) {dict的key必须是可hash的不可变对象};
    \node[rt] (cd4b) at (1544,4014) {一个key只对应一个value，多次对一个key放入value，后面的值会把前面的值冲掉};
    \node[rt] (cd4c) at (1544,4062) {key不存在，dict就会报错};
    \node[rt] (cd4c1) at (1739,4046) {1、get( ) 方法，如果key不存在返回None，或者自己指定的value};
    \node[rt] (cd4c2) at (1739,4078) {2、通过in判断key是否存在};
    \node[rt] (cd4d) at (1544,4110) {删除Key};
    \node[rt] (cd4d1) at (1641,4110) {pop(key)};
    \node[rt] (cd4d1a) at (1742,4110) {对应的value也会被删除};
    \node[rt] (cd4e) at (1544,4207) {内置方法};
    \node[rt] (cd4e1) at (1644,4142) {keys( )};
    \node[rt] (cd4e1a) at (1733,4142) {返回字典中的键};
    \node[rt] (cd4e2) at (1644,4174) {value( )};
    \node[rt] (cd4e2a) at (1737,4174) {返回字典中所有的值};
    \node[rt] (cd4e3) at (1644,4206) {items( )};
    \node[rt] (cd4e3a) at (1739,4206) {返回所有的键值对};
    \node[rt] (cd4e4) at (1644,4238) {copy( )};
    \node[rt] (cd4e4a) at (1736,4238) {复制字典};
    \node[rt] (cd4e5) at (1644,4270) {update( )};
    \node[rt] (cd4e5a) at (1749,4270) {更新字典};
    \rroot{cd}{cd1,cd2,cd3,cd4}
    \rkids{cd1}{cd1a,cd1b,cd1c,cd1d,cd1e,cd1f}
    \rkids{cd1a}{cd1a1}
    \rkids{cd1a1}{cd1a1a}
    \rkids{cd1b}{cd1b1,cd1b2,cd1b3}
    \rkids{cd1b2}{cd1b2a}
    \rkids{cd1b3}{cd1b3a,cd1b3b}
    \rkids{cd1c}{cd1c1}
    \rkids{cd1c1}{cd1c1a}
    \rkids{cd1d}{cd1d1,cd1d2,cd1d3,cd1d4}
    \rkids{cd1d1}{cd1d1a}
    \rkids{cd1d2}{cd1d2a,cd1d2b}
    \rkids{cd1d3}{cd1d3a,cd1d3b}
    \rkids{cd1d4}{cd1d4a}
    \rkids{cd1e}{cd1e1}
    \rkids{cd1f}{cd1f1,cd1f2,cd1f3,cd1f4,cd1f5,cd1f6,cd1f7}
    \rkids{cd2}{cd2a,cd2b,cd2c,cd2d,cd2e,cd2f}
    \rkids{cd2a}{cd2a1}
    \rkids{cd2c}{cd2c1}
    \rkids{cd2d}{cd2d1}
    \rkids{cd2d1}{cd2d1a,cd2d1b,cd2d1c}
    \rkids{cd2e}{cd2e1,cd2e2}
    \rkids{cd2f}{cd2f1}
    \rkids{cd2f1}{cd2f1a,cd2f1b}
    \rkids{cd3}{cd3a,cd3b,cd3c,cd3d,cd3e,cd3f}
    \rkids{cd3a}{cd3a1,cd3a2,cd3a3,cd3a4}
    \rkids{cd3b}{cd3b1}
    \rkids{cd3c}{cd3c1}
    \rkids{cd3d}{cd3d1}
    \rkids{cd3e}{cd3e1}
    \rkids{cd3f}{cd3f1}
    \rkids{cd4}{cd4a,cd4b,cd4c,cd4d,cd4e}
    \rkids{cd4a}{cd4a1,cd4a2,cd4a3}
    \rkids{cd4c}{cd4c1,cd4c2}
    \rkids{cd4d}{cd4d1}
    \rkids{cd4d1}{cd4d1a}
    \rkids{cd4e}{cd4e1,cd4e2,cd4e3,cd4e4,cd4e5}
    \rkids{cd4e1}{cd4e1a}
    \rkids{cd4e2}{cd4e2a}
    \rkids{cd4e3}{cd4e3a}
    \rkids{cd4e4}{cd4e4a}
    \rkids{cd4e5}{cd4e5a}

    \begin{pgfonlayer}{background}
    \foreach \b in {mk,fp,ad,fn} \draw[lnk] (py.center) .. controls +(-25,0) and +(40,0) .. (\b.east);
    \foreach \b in {bc,bk,br,cd} \draw[lnk] (py.center) .. controls +(25,0) and +(-40,0) .. (\b.west);
    \end{pgfonlayer}
    \node[anchor=east, text=black!13, font=\zhfont\fontsize{15}{18}\selectfont] (wm) at (2252,4269) {https://blog.csdn.net/qq\_43553062};
\end{tikzpicture}
\end{document}
